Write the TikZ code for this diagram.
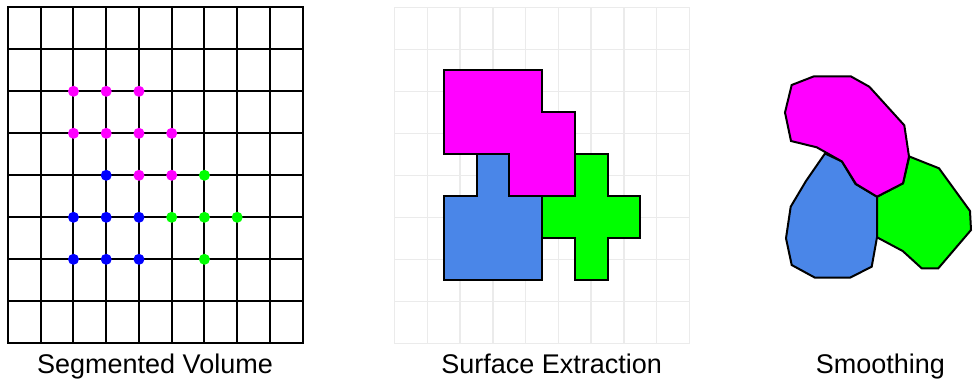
\documentclass[tikz,border=0pt]{standalone}
\usepackage{fontspec}
\setmainfont{Liberation Sans}
\definecolor{mag}{HTML}{FF00FF}
\definecolor{vblue}{HTML}{0000FF}
\definecolor{vgreen}{HTML}{00FF00}
\definecolor{sblue}{HTML}{4A86E8}
\definecolor{lgrid}{HTML}{EBEBEB}
\begin{document}
\begin{tikzpicture}[x=1pt,y=-1pt,
  caption/.style={anchor=base, inner sep=0pt, font=\fontsize{27}{30}\selectfont},
  region/.style={draw=black, line width=2pt, line join=miter},
  dot/.style={circle, inner sep=0pt, minimum size=11pt},
  darkline/.style={line width=2pt, line cap=rect},
  lightline/.style={draw=lgrid, line width=1.5pt, line cap=rect}]
\useasboundingbox (0,0) rectangle (978,383);
% ---- Segmented volume ----
\begin{scope}[shift={(8,7.3)}, x=32.74pt, y=-42pt]
  \foreach \i in {0,...,9} \draw[darkline] (\i,0) -- (\i,8);
  \foreach \j in {0,...,8} \draw[darkline] (0,\j) -- (9,\j);
  \foreach \c/\r [count=\k] in {2/2,3/2,4/2,2/3,3/3,4/3,5/3,4/4,5/4}
    \node[dot, fill=mag] (m\k) at (\c,\r) {};
  \foreach \c/\r [count=\k] in {3/4,2/5,3/5,4/5,2/6,3/6,4/6}
    \node[dot, fill=vblue] (b\k) at (\c,\r) {};
  \foreach \c/\r [count=\k] in {6/4,5/5,6/5,7/5,6/6}
    \node[dot, fill=vgreen] (g\k) at (\c,\r) {};
\end{scope}
% ---- Surface extraction ----
\begin{scope}[shift={(394.7,7.3)}, x=32.74pt, y=-42pt]
  \foreach \i in {0,...,9} \draw[lightline] (\i,0) -- (\i,8);
  \foreach \j in {0,...,8} \draw[lightline] (0,\j) -- (9,\j);
  \draw[region, fill=sblue] (2.5,3.5) -- (3.5,3.5) -- (3.5,4.5) -- (4.5,4.5) -- (4.5,6.5)
    -- (1.5,6.5) -- (1.5,4.5) -- (2.5,4.5) -- cycle;
  \draw[region, fill=vgreen] (5.5,3.5) -- (6.5,3.5) -- (6.5,4.5) -- (7.5,4.5) -- (7.5,5.5)
    -- (6.5,5.5) -- (6.5,6.5) -- (5.5,6.5) -- (5.5,5.5) -- (4.5,5.5) -- (4.5,4.5) -- (5.5,4.5) -- cycle;
  \draw[region, fill=mag] (1.5,1.5) -- (4.5,1.5) -- (4.5,2.5) -- (5.5,2.5) -- (5.5,4.5)
    -- (3.5,4.5) -- (3.5,3.5) -- (1.5,3.5) -- cycle;
\end{scope}
% ---- Smoothing ----
\draw[region, fill=sblue] (825,153.5) -- (842,161.5) -- (855.5,184) -- (877,196.7) -- (877,237.3)
  -- (871.7,266.7) -- (850,277.7) -- (815,277.7) -- (791.7,265) -- (786,238.3) -- (790.7,206.7)
  -- (806,181) -- cycle;
\draw[region, fill=vgreen] (877,196.7) -- (903,183.3) -- (909.3,156.5) -- (939,168.3) -- (970,211)
  -- (971,230) -- (938.3,268.3) -- (921.7,268.3) -- (902.7,251) -- (877,237.3) -- cycle;
\draw[region, fill=mag] (791.7,85) -- (814,76.3) -- (850.7,76.3) -- (869.3,86.7) -- (904.3,125.3)
  -- (909,156.5) -- (903,183.3) -- (877,196.7) -- (856,184) -- (842,161.5) -- (816.7,147.3)
  -- (791,141) -- (785,112.5) -- cycle;
% ---- Captions ----
\node[caption] (t1) at (155,373.5) {Segmented Volume};
\node[caption] (t2) at (551.7,373.5) {Surface Extraction};
\node[caption] (t3) at (880.3,373.5) {Smoothing};
\end{tikzpicture}
\end{document}
